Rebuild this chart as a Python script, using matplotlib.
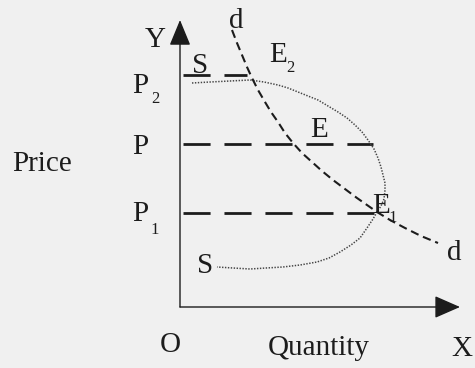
import numpy as np
import matplotlib
matplotlib.use("Agg")
import matplotlib.pyplot as plt

plt.rcParams['font.family'] = ['Liberation Serif', 'DejaVu Serif']
plt.rcParams['lines.scale_dashes'] = False

# Curva de oferta S (quantidade, preço)
s_q = [12, 30, 50, 70, 84, 98, 108, 118, 128, 138, 148, 158, 167, 175, 182,
       188, 194, 198, 201, 203, 205, 205, 204, 201, 197, 193, 187, 180, 171,
       160, 149, 137, 120, 103, 86, 70, 53, 37]
s_p = [224, 225, 226, 227, 225, 222, 219, 215, 211, 207, 201, 195, 189, 182, 175,
       167, 158, 149, 140, 132, 124, 117, 108, 101, 95, 88, 79, 69, 62,
       55, 49, 45, 42, 40, 39, 38, 39, 40]

# Curva de demanda d
d_q = [52, 57, 62, 67, 72, 78, 85, 91, 98, 105, 113, 122, 132, 142, 153, 165,
       177, 187, 197, 210, 225, 241, 258]
d_p = [277, 264, 252, 240, 229, 217, 205, 195, 185, 174, 164, 154, 145, 136,
       127, 118, 109, 102, 95, 87, 79, 71, 64]

# Níveis de preço e até onde vão as linhas tracejadas
niveis = ['P2', 'P', 'P1']
precos = [232, 163, 94]
q_fim = [67, 193, 197]

bg = '#f0f0f0'
ink = '#1c1c1c'

fig = plt.figure(figsize=(4.75, 3.68), dpi=100, facecolor=bg)
ax = fig.add_axes([0, 0, 1, 1], facecolor=bg)
ax.set_xlim(-180, 295)
ax.set_ylim(-61, 307)
ax.axis('off')

# Eixos com setas
ax.annotate('', xy=(0, 287), xytext=(0, 0),
            arrowprops=dict(arrowstyle='-|>,head_length=0.8,head_width=0.33',
                            mutation_scale=20, lw=1.0, color=ink,
                            shrinkA=0, shrinkB=0))
ax.annotate('', xy=(280, 0), xytext=(0, 0),
            arrowprops=dict(arrowstyle='-|>,head_length=0.8,head_width=0.35',
                            mutation_scale=20, lw=1.0, color=ink,
                            shrinkA=0, shrinkB=0))

# Linhas de preço
for p, qf in zip(precos, q_fim):
    ax.plot([3, qf], [p, p], color=ink, lw=2.0,
            linestyle=(0, (19.5, 10.0)), solid_capstyle='butt',
            dash_capstyle='butt')

# Oferta (pontilhada) e demanda (tracejada)
ax.plot(s_q, s_p, color='#444444', lw=1.1, linestyle=(0, (1.0, 1.1)))
ax.plot(d_q, d_p, color=ink, lw=1.5, linestyle=(0, (6.0, 3.5)),
        dash_capstyle='butt')

fs = 21
sub = 12
kw = dict(color=ink, ha='center', va='baseline')
ax.text(-25, 260, 'Y', fontsize=fs, **kw)
ax.text(-40, 214, 'P', fontsize=fs, **kw)
ax.text(-25, 204, '2', fontsize=sub, **kw)
ax.text(-40, 153, 'P', fontsize=fs, **kw)
ax.text(-138, 136, 'Price', fontsize=fs, **kw)
ax.text(-40, 86, 'P', fontsize=fs, **kw)
ax.text(-25, 73, '1', fontsize=sub, **kw)
ax.text(20, 234, 'S', fontsize=fs, **kw)
ax.text(25, 34, 'S', fontsize=fs, **kw)
ax.text(56, 279, 'd', fontsize=fs, **kw)
ax.text(98, 245, 'E', fontsize=fs, **kw)
ax.text(110, 235, '2', fontsize=sub, **kw)
ax.text(139, 170, 'E', fontsize=fs, **kw)
ax.text(201, 94, 'E', fontsize=fs, **kw)
ax.text(213, 85, '1', fontsize=sub, **kw)
ax.text(274, 47, 'd', fontsize=fs, **kw)
ax.text(-10, -45, 'O', fontsize=fs, **kw)
ax.text(139, -48, 'Quantity', fontsize=fs, **kw)
ax.text(282, -49, 'X', fontsize=fs, **kw)

fig.savefig('out.png', dpi=100, facecolor=bg)
